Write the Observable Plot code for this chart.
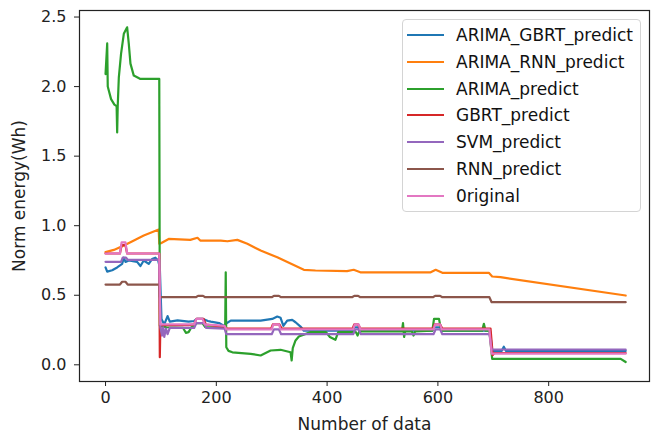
<!DOCTYPE html>
<html>
<head>
<meta charset="utf-8">
<script src="https://cdn.jsdelivr.net/npm/d3@7"></script>
<script src="https://cdn.jsdelivr.net/npm/@observablehq/plot@0.6"></script>
<style>
  body { margin: 0; background: #fff; font-family: "DejaVu Sans", sans-serif; }
  #wrap { position: relative; width: 657px; height: 437px; }
  #legend { position: absolute; left: 402px; top: 19px; width: 239px; height: 193px;
    border: 1px solid #d4d4d4; border-radius: 4px; background: rgba(255,255,255,0.85); box-sizing: border-box; }
  .row { position: absolute; left: 0; height: 20px; }
  .sw { position: absolute; left: 4px; width: 37px; height: 2px; top: 9px; }
  .lab { position: absolute; left: 53px; top: 0; font-size: 17px; line-height: 20px; color: #111; white-space: nowrap; }
</style>
</head>
<body>
<div id="wrap"><div id="legend"></div></div>
<script>
const seriesNames = ["ARIMA_GBRT_predict", "ARIMA_RNN_predict", "ARIMA_predict", "GBRT_predict", "SVM_predict", "RNN_predict", "0riginal"];
const seriesColors = ["#1f77b4", "#ff7f0e", "#2ca02c", "#d62728", "#9467bd", "#8c564b", "#e377c2"];

const arimaGbrtX = [0,3,12,21,30,33,36,42,57,63,69,78,84,90,95,98,101,106,112,116,130,150,160,165,175,185,190,205,214,217,226,250,280,301,310,316,321,328,337,343,352,358,446,449,456,459,590,594,604,608,694,698,702,715,719,723,939];
const arimaGbrtY = [0.70,0.67,0.68,0.70,0.725,0.77,0.74,0.75,0.74,0.71,0.75,0.725,0.76,0.77,0.75,0.70,0.33,0.29,0.35,0.31,0.32,0.31,0.315,0.33,0.33,0.315,0.31,0.30,0.28,0.295,0.318,0.318,0.318,0.33,0.347,0.338,0.28,0.318,0.323,0.306,0.275,0.245,0.245,0.27,0.27,0.245,0.245,0.27,0.27,0.245,0.245,0.10,0.10,0.10,0.13,0.10,0.10];

const arimaRnnX = [0,15,33,45,69,96,97,100,114,153,166,171,208,220,238,256,280,310,358,379,436,448,460,587,596,608,692,698,713,939];
const arimaRnnY = [0.81,0.826,0.857,0.881,0.929,0.972,0.87,0.874,0.905,0.898,0.913,0.893,0.893,0.888,0.898,0.87,0.821,0.773,0.683,0.678,0.673,0.683,0.665,0.665,0.683,0.661,0.661,0.635,0.63,0.498];

const arimaX = [0,3,4,6,10,16,20,21,22,24,28,33,39,42,45,51,63,97,98,110,140,145,150,155,165,175,180,216,217,218,222,229,262,280,298,316,334,336,338,343,349,370,398,405,415,420,452,455,458,535,537,539,541,553,556,559,590,593,602,606,680,683,686,693,698,930,939];
const arimaY = [2.09,2.31,2.0,1.97,1.91,1.87,1.86,1.67,1.86,2.067,2.235,2.379,2.426,2.307,2.165,2.079,2.055,2.055,0.28,0.27,0.265,0.23,0.235,0.27,0.30,0.30,0.27,0.27,0.665,0.126,0.10,0.09,0.079,0.067,0.103,0.108,0.09,0.031,0.12,0.175,0.203,0.235,0.235,0.20,0.18,0.235,0.235,0.21,0.24,0.24,0.30,0.20,0.24,0.24,0.21,0.24,0.245,0.33,0.33,0.245,0.245,0.295,0.245,0.245,0.043,0.043,0.02];

const gbrtX = [0,26,29,36,39,97,98,99,150,160,164,177,181,200,215,220,299,302,314,318,446,449,456,460,591,594,604,608,695,699,702,939];
const gbrtY = [0.80,0.80,0.86,0.86,0.80,0.80,0.055,0.285,0.285,0.29,0.33,0.33,0.29,0.28,0.27,0.26,0.26,0.29,0.29,0.26,0.26,0.29,0.29,0.26,0.26,0.29,0.29,0.26,0.26,0.07,0.085,0.085];

const svmX = [0,28,31,37,40,97,99,102,104,106,109,112,116,160,164,178,182,215,218,300,304,313,317,447,451,457,461,592,596,604,608,693,697,939];
const svmY = [0.74,0.74,0.77,0.77,0.755,0.755,0.27,0.21,0.27,0.20,0.26,0.22,0.265,0.265,0.30,0.30,0.265,0.26,0.22,0.22,0.255,0.255,0.22,0.22,0.255,0.255,0.22,0.22,0.255,0.255,0.22,0.22,0.11,0.11];

const rnnX = [0,26,30,36,40,97,98,163,167,176,180,300,304,313,317,445,449,456,460,591,595,604,608,693,697,939];
const rnnY = [0.577,0.577,0.597,0.597,0.577,0.577,0.486,0.486,0.496,0.496,0.486,0.486,0.496,0.496,0.486,0.486,0.496,0.496,0.486,0.486,0.496,0.496,0.486,0.486,0.45,0.45];

const originalX = [0,26,29,36,39,97,99,160,164,175,179,215,218,300,303,313,316,447,450,457,460,592,595,604,607,693,697,939];
const originalY = [0.80,0.80,0.88,0.88,0.80,0.80,0.29,0.29,0.33,0.33,0.29,0.28,0.255,0.255,0.29,0.29,0.255,0.255,0.29,0.29,0.255,0.255,0.29,0.29,0.255,0.255,0.08,0.08];

const xTicks = [0, 200, 400, 600, 800];
const yTicks = [0.0, 0.5, 1.0, 1.5, 2.0, 2.5];

const seriesXs = [arimaGbrtX, arimaRnnX, arimaX, gbrtX, svmX, rnnX, originalX];
const seriesYs = [arimaGbrtY, arimaRnnY, arimaY, gbrtY, svmY, rnnY, originalY];

const lineMarks = seriesNames.map((name, i) => {
  const rows = seriesXs[i].map((x, j) => ({x, y: seriesYs[i][j]}));
  return Plot.line(rows, {x: "x", y: "y", stroke: seriesColors[i], strokeWidth: 2.2, strokeLinejoin: "round"});
});

const chart = Plot.plot({
  width: 657,
  height: 437,
  marginLeft: 79,
  marginRight: 8,
  marginTop: 10,
  marginBottom: 56,
  style: {fontFamily: "DejaVu Sans, sans-serif", background: "transparent"},
  x: {domain: [-47, 982]},
  y: {domain: [-0.12, 2.547]},
  marks: [
    ...lineMarks,
    Plot.frame({stroke: "#222", strokeWidth: 1.2}),
    Plot.axisX(xTicks, {tickSize: 5, tickPadding: 5, fontSize: 16, fill: "#222", stroke: "#222",
      label: "Number of data", labelAnchor: "center", labelArrow: "none", labelOffset: 48}),
    Plot.axisY(yTicks, {tickSize: 5, tickPadding: 8, fontSize: 16, fill: "#222", stroke: "#222",
      tickFormat: d3.format(".1f"),
      label: "Norm energy(Wh)", labelAnchor: "center", labelArrow: "none", labelOffset: 67})
  ]
});
chart.querySelectorAll("g[aria-label='x-axis label'] text, g[aria-label='y-axis label'] text").forEach(t => t.setAttribute("font-size", "17"));
document.getElementById("wrap").prepend(chart);

const legend = document.getElementById("legend");
seriesNames.forEach((name, i) => {
  const row = document.createElement("div");
  row.className = "row";
  row.style.top = (5 + 26.8 * i) + "px";
  const sw = document.createElement("div");
  sw.className = "sw";
  sw.style.background = seriesColors[i];
  const lab = document.createElement("div");
  lab.className = "lab";
  lab.textContent = name;
  row.appendChild(sw);
  row.appendChild(lab);
  legend.appendChild(row);
});
</script>
</body>
</html>
